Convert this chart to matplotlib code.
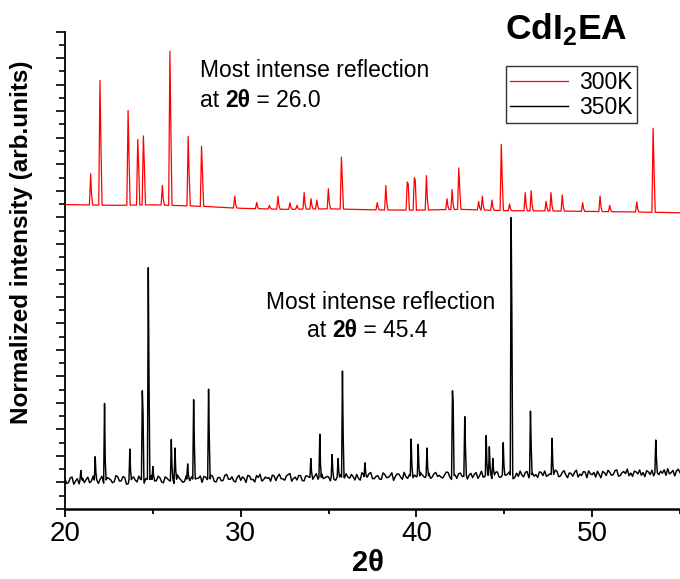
import numpy as np
import matplotlib
matplotlib.use("Agg")
import matplotlib.pyplot as plt
from matplotlib.ticker import MultipleLocator

plt.rcParams['font.family'] = ['Liberation Sans', 'DejaVu Sans']
plt.rcParams['mathtext.fontset'] = 'custom'
plt.rcParams['mathtext.rm'] = 'Liberation Sans'
plt.rcParams['mathtext.bf'] = 'Liberation Sans:bold'

# --- 300K pattern (red, offset upwards) ---
base_300_x = [20, 22.8, 25, 27.5, 30, 32.5, 35, 37.5, 40, 42.5, 45, 47.5, 50, 52.5, 55]
base_300_y = [11.48, 11.45, 11.47, 11.42, 11.34, 11.30, 11.32, 11.28, 11.27, 11.30,
              11.25, 11.24, 11.22, 11.20, 11.17]
peak_300_pos = [21.46, 21.99, 23.59, 24.14, 24.46, 25.54, 25.97, 27.01, 27.77, 29.66,
                30.91, 31.63, 32.12, 32.80, 33.20, 33.61, 34.00, 34.33, 34.99, 35.73,
                37.77, 38.26, 39.48, 39.88, 40.57, 41.74, 42.03, 42.41, 43.54, 43.75,
                44.30, 44.83, 45.30, 46.19, 46.53, 47.38, 47.66, 48.30, 49.46, 50.45,
                51.00, 52.54, 53.47]
peak_300_top = [12.64, 16.16, 15.03, 13.94, 14.07, 12.20, 17.26, 14.05, 13.68, 11.80,
                11.56, 11.45, 11.79, 11.55, 11.45, 11.93, 11.70, 11.65, 12.08, 13.27,
                11.55, 12.20, 12.33, 12.49, 12.57, 11.70, 12.05, 12.86, 11.60, 11.80,
                11.65, 13.75, 11.50, 11.93, 12.00, 11.60, 11.93, 11.84, 11.55, 11.80,
                11.45, 11.58, 14.36]
peak_300_shoulder = {21.99: 13.8, 23.59: 13.2, 24.14: 12.9, 24.46: 13.0, 25.97: 14.4,
                     27.01: 12.65, 27.77: 12.7, 35.73: 12.37, 39.48: 12.25, 39.88: 12.4,
                     42.41: 12.1, 44.83: 12.4, 53.47: 12.77}

# --- 350K pattern (black) ---
base_350_x = [20, 30, 40, 50, 55]
base_350_y = [1.08, 1.15, 1.25, 1.32, 1.38]
peak_350_pos = [20.90, 21.72, 22.25, 23.69, 24.40, 24.74, 25.00, 26.05, 26.26, 26.98,
                27.32, 28.17, 33.99, 34.50, 35.20, 35.54, 35.79, 37.07, 39.70, 40.10,
                40.60, 42.05, 42.75, 43.97, 44.15, 44.35, 44.94, 45.39, 46.49, 47.72,
                53.62]
peak_350_top = [1.45, 1.97, 3.98, 2.26, 4.46, 9.10, 1.60, 2.62, 2.30, 1.70,
                4.12, 4.52, 1.90, 2.82, 2.05, 1.90, 5.20, 1.74, 2.64, 2.44,
                2.30, 4.46, 3.48, 2.77, 2.35, 1.90, 2.50, 10.99, 3.69, 2.67,
                2.60]
peak_350_shoulder = {22.25: 1.8, 24.40: 3.63, 24.74: 4.86, 27.32: 2.5, 28.17: 2.7,
                     35.79: 2.8, 42.05: 3.98, 42.75: 2.3, 45.39: 7.43, 46.49: 2.4,
                     53.62: 1.9}
# background jitter of the 350K scan, hundredths, every 0.1 deg from 20 to 55
noise_350 = [
    5, -12, -8, 9, 12, -15, -3, 6, -14, 18, 7, -9, 2, 11, -10, -4, 15, 8, -6, -13,
    3, 14, -12, -2, 9, 5, 0, -11, -7, 16, 11, -5, -4, 12, 8, -17, -15, 3, 6, 10,
    -2, -9, 13, 1, -9, -14, 4, 7, -11, 15, 10, -6, -5, 12, 6, -10, -13, 9, 4, -3,
    -7, 17, -16, -1, 16, 4, -3, -12, -9, 13, 14, -6, 8, -15, -6, 2, 3, 11, -13, 9,
    7, -3, -1, 14, 10, -10, -12, 4, 5, -8, -6, 13, 16, -2, -3, 7, -9, -13, 4, 12,
    -7, 6, 0, -15, 11, 9, -5, -4, -14, 10, 3, 15, -11, -6, 4, -1, 2, -12, 11, 8,
    -10, 5, 14, -3, -4, -9, 7, 12, 16, -13, -3, 2, -9, 8, 8, -11, -13, 6, 5, 1,
    -11, -7, 4, 14, -7, 10, 13, -5, -2, 3, 1, -14, 10, -8, -12, 6, 6, 9, 7, -4,
    12, -1, -5, 9, 0, -12, 9, -6, -13, 15, 6, -3, -2, 11, 15, -8, -8, 0, 3, -10,
    -11, 13, 7, -5, -4, 2, 13, -16, -1, 8, 8, -4, -12, 14, -3, -9, 5, 11, -7, 3,
    -4, -14, 14, 6, -2, -7, 8, 10, -10, -5, 7, 12, -3, 1, -6, -9, 2, 13, 12, -6,
    -15, 4, 2, -11, 6, 9, -4, -3, 15, -14, 1, 7, -9, 4, 10, -12, -1, 15, -8, -5,
    13, 2, -2, -13, 7, 10, 12, -7, -9, 3, -5, -1, 4, 11, 8, -15, -10, 6, -6, 14,
    -1, -8, 9, 12, -12, 3, 5, -6, 0, -11, 10, 8, -4, 13, -7, -3, 2, -10, 4, 16,
    11, -9, -6, 7, 14, -2, -13, 5, 3, -8, 7, 15, -11, 0, -5, 9, 8, -14, 12, 1,
    -3, 6, -12, 10, -2, -15, 9, 4, -7, 13, 5, -6, -4, 11, 14, -10, -8, 3, 7, -1,
    16, -9, 1, -12, 8, 5, -3, 12, -8, 2, -14, 9, 4, -6, 10, -11, 3, 13, -7, 6,
    -2, 11, -10, 15, -5, 0, 8, -13, 6, 12, -1,
]


def pattern(bx, by, pos, top, shoulder, wl, wr, jitter=None):
    if jitter is None:
        gx = np.array(bx, float)
        gy = np.array(by, float)
    else:
        gx = np.linspace(20, 55, len(jitter))
        gy = np.interp(gx, bx, by) + np.array(jitter) / 100.0
    keep = np.ones(len(gx), bool)
    for p in pos:
        keep &= ~((gx > p - wl) & (gx < p + wr))
    pts = list(zip(gx[keep], gy[keep]))
    for p, t in zip(pos, top):
        b = float(np.interp(p, bx, by))
        s = shoulder.get(p, b + 0.3 * (t - b))
        pts += [(p - wl, b), (p, t), (p + 0.45 * wr, s), (p + wr, b)]
    pts.sort()
    x, y = zip(*pts)
    return np.array(x), np.array(y)


def label_2theta(ax, x, y, value):
    # "at " + bold "2θ" + " = value", chained piece by piece
    t1 = ax.text(x, y, 'at ', fontsize=16.5, va='bottom', ha='left')
    t2 = ax.annotate('2θ', xy=(1, 0), xycoords=t1, fontsize=16.5,
                     fontweight='bold', va='bottom', ha='left')
    ax.annotate(' = ' + value, xy=(1, 0), xycoords=t2, fontsize=16.5,
                va='bottom', ha='left')


x300, y300 = pattern(base_300_x, base_300_y, peak_300_pos, peak_300_top,
                     peak_300_shoulder, 0.07, 0.12)
x350, y350 = pattern(base_350_x, base_350_y, peak_350_pos, peak_350_top,
                     peak_350_shoulder, 0.05, 0.09, noise_350)

fig = plt.figure(figsize=(6.8, 5.79), dpi=100)
ax = fig.add_axes([0.0956, 0.1209, 0.9044, 0.8244])
ax.plot(x300, y300, color='#ff0000', lw=0.9, label='300K')
ax.plot(x350, y350, color='black', lw=1.05, label='350K')

ax.set_xlim(20, 55)
ax.set_ylim(0, 18)
for side in ['top', 'right']:
    ax.spines[side].set_visible(False)
ax.spines['left'].set_linewidth(1.3)
ax.spines['bottom'].set_linewidth(1.8)

ax.xaxis.set_major_locator(MultipleLocator(10))
ax.xaxis.set_minor_locator(MultipleLocator(5))
ax.yaxis.set_major_locator(MultipleLocator(1))
ax.yaxis.set_minor_locator(MultipleLocator(0.5))
ax.tick_params(axis='x', which='major', length=6, width=1.3, labelsize=20, pad=3)
ax.tick_params(axis='x', which='minor', length=3.5, width=1.3)
ax.tick_params(axis='y', which='major', length=6.5, width=1.2, labelleft=False)
ax.tick_params(axis='y', which='minor', length=4, width=1.2)

ax.text(27.66, 16.53, 'Most intense reflection', fontsize=16.5, va='center', ha='left')
label_2theta(ax, 27.66, 14.98, '26.0')
ax.text(37.98, 7.8, 'Most intense reflection', fontsize=16.5, va='center', ha='center')
label_2theta(ax, 33.75, 6.3, '45.4')

fig.text(0.832, 0.95, r'CdI$_\mathbf{2}$EA', fontsize=25.5, fontweight='bold',
         ha='center', va='center')
fig.text(0.541, 0.028, '2θ', fontsize=21, fontweight='bold', ha='center', va='center')
fig.text(0.032, 0.582, 'Normalized intensity (arb.units)', fontsize=17.5,
         fontweight='bold', rotation=90, ha='center', va='center')

leg = fig.legend(loc='upper right', bbox_to_anchor=(0.937, 0.886), fontsize=16.5,
                 frameon=True, fancybox=False, edgecolor='black', handlelength=2.5,
                 borderaxespad=0, borderpad=0.2, labelspacing=0.1, handletextpad=0.5)
leg.get_frame().set_linewidth(1.0)

fig.savefig('out.png', dpi=100)
